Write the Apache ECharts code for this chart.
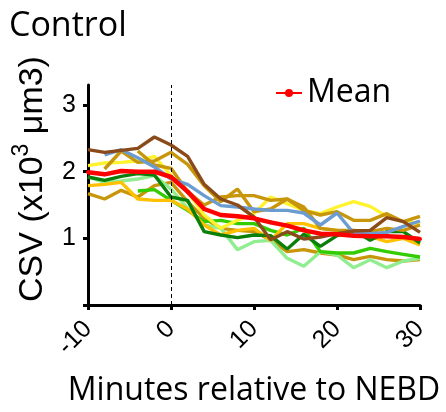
<!DOCTYPE html>
<html>
<head>
<meta charset="utf-8">
<script src="https://cdn.jsdelivr.net/npm/echarts@6/dist/echarts.min.js"></script>
<style>html,body{margin:0;padding:0;background:#fff}#c{width:446px;height:412px}</style>
</head>
<body>
<div id="c"></div>
<script>
var minutes = [-10,-8,-6,-4,-2,0,2,4,6,8,10,12,14,16,18,20,22,24,26,28,30];
var brown = [2.33,2.29,2.32,2.35,2.52,2.40,2.23,1.81,1.59,1.50,1.32,0.98,1.10,0.99,1.02,1.07,1.11,1.12,1.31,1.25,1.09];
var blue = [null,2.25,2.33,2.21,2.07,1.89,1.81,1.64,1.49,1.47,1.44,1.42,1.42,1.38,1.20,1.38,1.08,1.07,1.09,1.18,1.26];
var goldLow = [1.67,1.59,1.72,1.62,1.79,1.84,1.55,1.30,1.15,1.12,1.10,0.98,0.80,0.83,0.78,0.75,0.68,0.73,0.68,0.66,0.68];
var goldMid = [null,2.04,2.31,2.14,2.16,2.29,2.11,1.79,1.55,1.74,1.40,1.44,1.59,1.47,1.15,1.12,1.12,1.10,1.15,1.12,1.20];
var goldTop = [null,null,null,2.31,2.10,2.05,1.70,1.50,1.62,1.64,1.64,1.57,1.59,1.42,1.35,1.40,1.27,1.27,1.37,1.25,1.33];
var yellow = [2.09,2.13,2.14,2.16,2.23,1.94,1.70,1.35,1.15,1.27,1.37,1.62,1.52,1.42,1.37,1.47,1.55,1.48,1.33,1.25,1.22];
var orange = [1.79,1.81,1.84,1.59,1.57,1.57,1.44,1.20,1.05,1.12,1.15,0.97,1.22,1.22,1.15,1.12,1.05,1.03,0.95,1.00,0.90];
var darkGreen = [1.92,1.87,1.93,1.97,1.95,1.62,1.57,1.10,1.05,1.01,1.05,1.04,0.84,1.06,0.88,1.04,1.12,0.97,1.10,1.10,0.93];
var brightGreen = [null,null,null,1.71,1.73,1.57,1.42,1.25,1.27,1.22,1.22,1.12,1.05,1.15,0.80,0.78,0.78,0.85,0.80,0.76,0.72];
var lightGreen = [1.92,1.84,1.86,1.89,1.94,1.74,1.45,1.20,1.15,0.83,0.95,0.97,0.70,0.58,0.80,0.75,0.56,0.68,0.56,0.66,0.70];
var mean = [1.99,1.96,2.01,2.00,2.00,1.92,1.70,1.44,1.35,1.33,1.30,1.24,1.19,1.12,1.07,1.06,1.04,1.03,1.03,1.02,0.99];
var yTicks = [1,2,3];
var xTicks = [-10,0,10,20,30];

var individuals = [
  {d: goldLow, c: '#C8960A'},
  {d: lightGreen, c: '#90EE90'},
  {d: brightGreen, c: '#33CC00'},
  {d: orange, c: '#FFC000'},
  {d: darkGreen, c: '#0A7F0A'},
  {d: yellow, c: '#FFF22E'},
  {d: goldMid, c: '#C8960A'},
  {d: goldTop, c: '#C8960A'},
  {d: blue, c: '#6A9BD1'},
  {d: brown, c: '#8B4A1A'}
];
function pairs(arr){ var out=[]; for(var i=0;i<minutes.length;i++){ if(arr[i]!==null) out.push([minutes[i],arr[i]]);} return out; }

var series = individuals.map(function(s){
  return {type:'line', data: pairs(s.d), showSymbol:false, symbol:'none', lineStyle:{color:s.c,width:3.4}, itemStyle:{color:s.c}, z:2, silent:true};
});
series.push({
  name:'Mean', type:'line', data: pairs(mean), symbol:'circle', symbolSize:4, showSymbol:true,
  lineStyle:{color:'#FF0000',width:4.5}, itemStyle:{color:'#FF0000'}, z:5,
  markLine:{silent:true, symbol:'none', label:{show:false}, lineStyle:{color:'#000',type:[4,3],width:1}, data:[{xAxis:0}]}
});

var chart = echarts.init(document.getElementById('c'));
chart.setOption({
  animation:false,
  title:{text:'Control', left:4, top:4, textStyle:{fontFamily:'Open Sans', fontWeight:'normal', fontSize:34, color:'#000'}},
  legend:{data:['Mean'], left:270, top:72, itemWidth:26, itemHeight:10, itemGap:5, textStyle:{fontFamily:'Open Sans', fontSize:32, color:'#000'}},
  grid:{left:88, right:26, top:85, bottom:105, containLabel:false},
  xAxis:{type:'value', min:-10, max:30, interval:10,
    name:'Minutes relative to NEBD', nameLocation:'middle', nameGap:70,
    nameTextStyle:{fontFamily:'Open Sans', fontSize:32, color:'#000'},
    axisLine:{onZero:false, lineStyle:{color:'#000',width:3}},
    axisTick:{show:true, length:5, lineStyle:{color:'#000',width:3}},
    axisLabel:{rotate:45, fontFamily:'Liberation Sans', fontSize:25, color:'#000', margin:20},
    splitLine:{show:false}},
  yAxis:{type:'value', min:0, max:3.3, interval:1,
    name:'{a|CSV (x10}{s|3}{a| μm3)}', nameLocation:'middle', nameGap:38,
    nameTextStyle:{color:'#000', padding:[0,0,0,32], rich:{
      a:{fontFamily:'Liberation Sans', fontSize:34, color:'#000', lineHeight:40, verticalAlign:'bottom'},
      s:{fontFamily:'Liberation Sans', fontSize:23, color:'#000', lineHeight:40, verticalAlign:'top'}}},
    axisLine:{show:true, onZero:false, lineStyle:{color:'#000',width:3}},
    axisTick:{show:true, length:5, lineStyle:{color:'#000',width:3}},
    axisLabel:{fontFamily:'Liberation Sans', fontSize:25, color:'#000', margin:12, showMaxLabel:false,
      formatter:function(v){ return yTicks.indexOf(v)>=0 ? String(v) : ''; }},
    splitLine:{show:false}},
  series: series
});
</script>
</body>
</html>
